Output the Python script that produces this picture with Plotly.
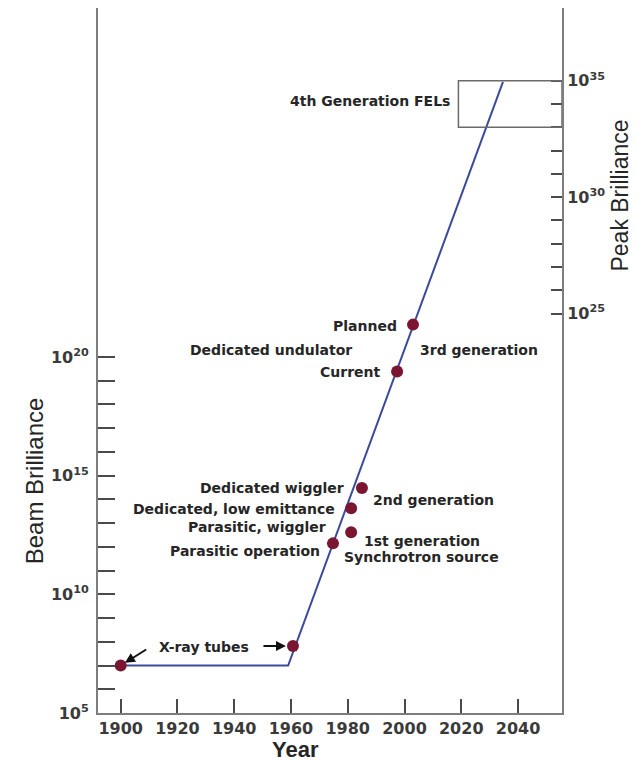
"""Beam / peak brilliance of X-ray sources versus year (log scale)."""

import plotly.graph_objects as go

# Line through the generations of sources (year, beam brilliance)
line_years = [1900, 1959, 2034.7]
line_brilliance = [1e7, 1e7, 3.9e31]

# Marked sources on the trend
dot_years = [1900, 1960.7, 1974.8, 1981.2, 1981.2, 1985.0, 1997.4, 2003.0]
dot_brilliance = [1e7, 6.6e7, 1.4e12, 4.1e12, 4.2e13, 3.0e14, 2.45e19, 2.3e21]

# 4th generation FEL window (peak brilliance axis)
fel_years = [2019, 2055.5]
fel_peak = [1e33, 1e35]

year_ticks = [1900, 1920, 1940, 1960, 1980, 2000, 2020, 2040]
beam_exponents = list(range(5, 21))
peak_exponents = list(range(25, 36))
labelled_beam = [5, 10, 15, 20]
labelled_peak = [25, 30, 35]

_AXIS = "#7d7d7d"
_TICK = "#4a4a4a"
_TEXT = "#262626"
_LINE = "#3b4a9c"
_DOT = "#7b1632"

_LABEL_FONT = {"family": "DejaVu Sans", "size": 14, "color": _TEXT, "weight": "bold"}
_TICK_FONT = {"family": "DejaVu Sans", "size": 16, "color": "#3a3a3a", "weight": "bold"}

fig = go.Figure()

fig.add_trace(
    go.Scatter(
        x=line_years,
        y=line_brilliance,
        mode="lines",
        line={"color": _LINE, "width": 2},
        hoverinfo="skip",
    )
)

fig.add_trace(
    go.Scatter(
        x=dot_years,
        y=dot_brilliance,
        mode="markers",
        marker={"size": 12, "color": _DOT},
    )
)

# invisible trace to activate the right-hand axis
fig.add_trace(
    go.Scatter(x=fel_years, y=fel_peak, yaxis="y2", mode="lines",
               line={"width": 0}, hoverinfo="skip")
)

fig.add_shape(
    type="rect",
    xref="x", yref="y2",
    x0=fel_years[0], x1=fel_years[1], y0=fel_peak[0], y1=fel_peak[1],
    line={"color": "#6a6a6a", "width": 1.5},
)

# labels: (text, year, log10 position, anchor)
labels = [
    ("Planned", 1998.1, 21.32, "right"),
    ("Current", 1992.4, 19.35, "right"),
    ("3rd generation", 2004.8, 20.31, "left"),
    ("Dedicated undulator", 1953.0, 20.31, "center"),
    ("Dedicated wiggler", 1979.4, 14.47, "right"),
    ("2nd generation", 1988.2, 13.96, "left"),
    ("Dedicated, low emittance", 1976.2, 13.58, "right"),
    ("Parasitic, wiggler", 1973.0, 12.83, "right"),
    ("1st generation", 1985.1, 12.24, "left"),
    ("Parasitic operation", 1970.9, 11.82, "right"),
    ("Synchrotron source", 1978.0, 11.56, "left"),
    ("X-ray tubes", 1929.4, 7.78, "center"),
    ("4th Generation FELs", 2016.7, 30.79, "right"),
]
for text, x, y, anchor in labels:
    fig.add_annotation(
        text=text, x=x, y=y, xref="x", yref="y",
        xanchor=anchor, yanchor="middle", showarrow=False, font=_LABEL_FONT,
    )

# X-ray tube arrows
fig.add_annotation(
    x=dot_years[0], y=7.0, xref="x", yref="y", text="",
    showarrow=True, arrowhead=2, arrowsize=1, arrowwidth=2, arrowcolor="#111",
    ax=27, ay=-17, standoff=5,
)
fig.add_annotation(
    x=dot_years[1], y=7.82, xref="x", yref="y", text="",
    showarrow=True, arrowhead=2, arrowsize=1, arrowwidth=2, arrowcolor="#111",
    ax=-31, ay=0, standoff=7,
)

# axis titles
_TITLE_FONT = {"family": "Liberation Sans", "size": 24, "color": _TEXT}
fig.add_annotation(
    text="Beam Brilliance", xref="paper", yref="paper", x=-0.138, y=0.33,
    xanchor="center", yanchor="middle", textangle=-90, showarrow=False,
    font=_TITLE_FONT,
)
fig.add_annotation(
    text="Peak Brilliance", xref="paper", yref="paper", x=1.125, y=0.734,
    xanchor="center", yanchor="middle", textangle=-90, showarrow=False,
    font={**_TITLE_FONT, "size": 23},
)
fig.add_annotation(
    text="Year", xref="paper", yref="paper", x=0.4246, y=-0.0518,
    xanchor="center", yanchor="middle", showarrow=False,
    font={**_TITLE_FONT, "size": 22, "weight": "bold"},
)

# page body adds an 8px margin, so the figure is 8px smaller and shifted
fig.update_layout(
    width=629,
    height=754,
    paper_bgcolor="white",
    plot_bgcolor="white",
    showlegend=False,
    margin={"l": 90, "r": 75, "t": 0, "b": 49, "autoexpand": False},
    xaxis={
        "range": [1892, 2055.5],
        "tickvals": year_ticks,
        "ticks": "inside",
        "ticklen": 14,
        "tickwidth": 2,
        "tickcolor": _TICK,
        "tickfont": _TICK_FONT,
        "showgrid": False,
        "zeroline": False,
        "showline": True,
        "linecolor": _AXIS,
        "linewidth": 2,
        "mirror": True,
    },
    yaxis={
        "type": "log",
        "range": [5.0, 34.7],
        "tickvals": [10.0 ** e for e in beam_exponents],
        "ticktext": [f"10<sup>{e}</sup>" if e in labelled_beam else "" for e in beam_exponents],
        "ticks": "inside",
        "ticklen": 17,
        "tickwidth": 2,
        "tickcolor": _TICK,
        "tickfont": _TICK_FONT,
        "ticklabelstandoff": 4,
        "showgrid": False,
        "zeroline": False,
        "showline": True,
        "linecolor": _AXIS,
        "linewidth": 2,
    },
    yaxis2={
        "type": "log",
        "overlaying": "y",
        "side": "right",
        "range": [7.83, 38.13],
        "tickvals": [10.0 ** e for e in peak_exponents],
        "ticktext": [f"10<sup>{e}</sup>" if e in labelled_peak else "" for e in peak_exponents],
        "ticks": "inside",
        "ticklen": 11,
        "tickwidth": 2,
        "tickcolor": _TICK,
        "tickfont": _TICK_FONT,
        "showgrid": False,
        "zeroline": False,
        "showline": True,
        "linecolor": _AXIS,
        "linewidth": 2,
    },
)

fig.write_html("out.html")
